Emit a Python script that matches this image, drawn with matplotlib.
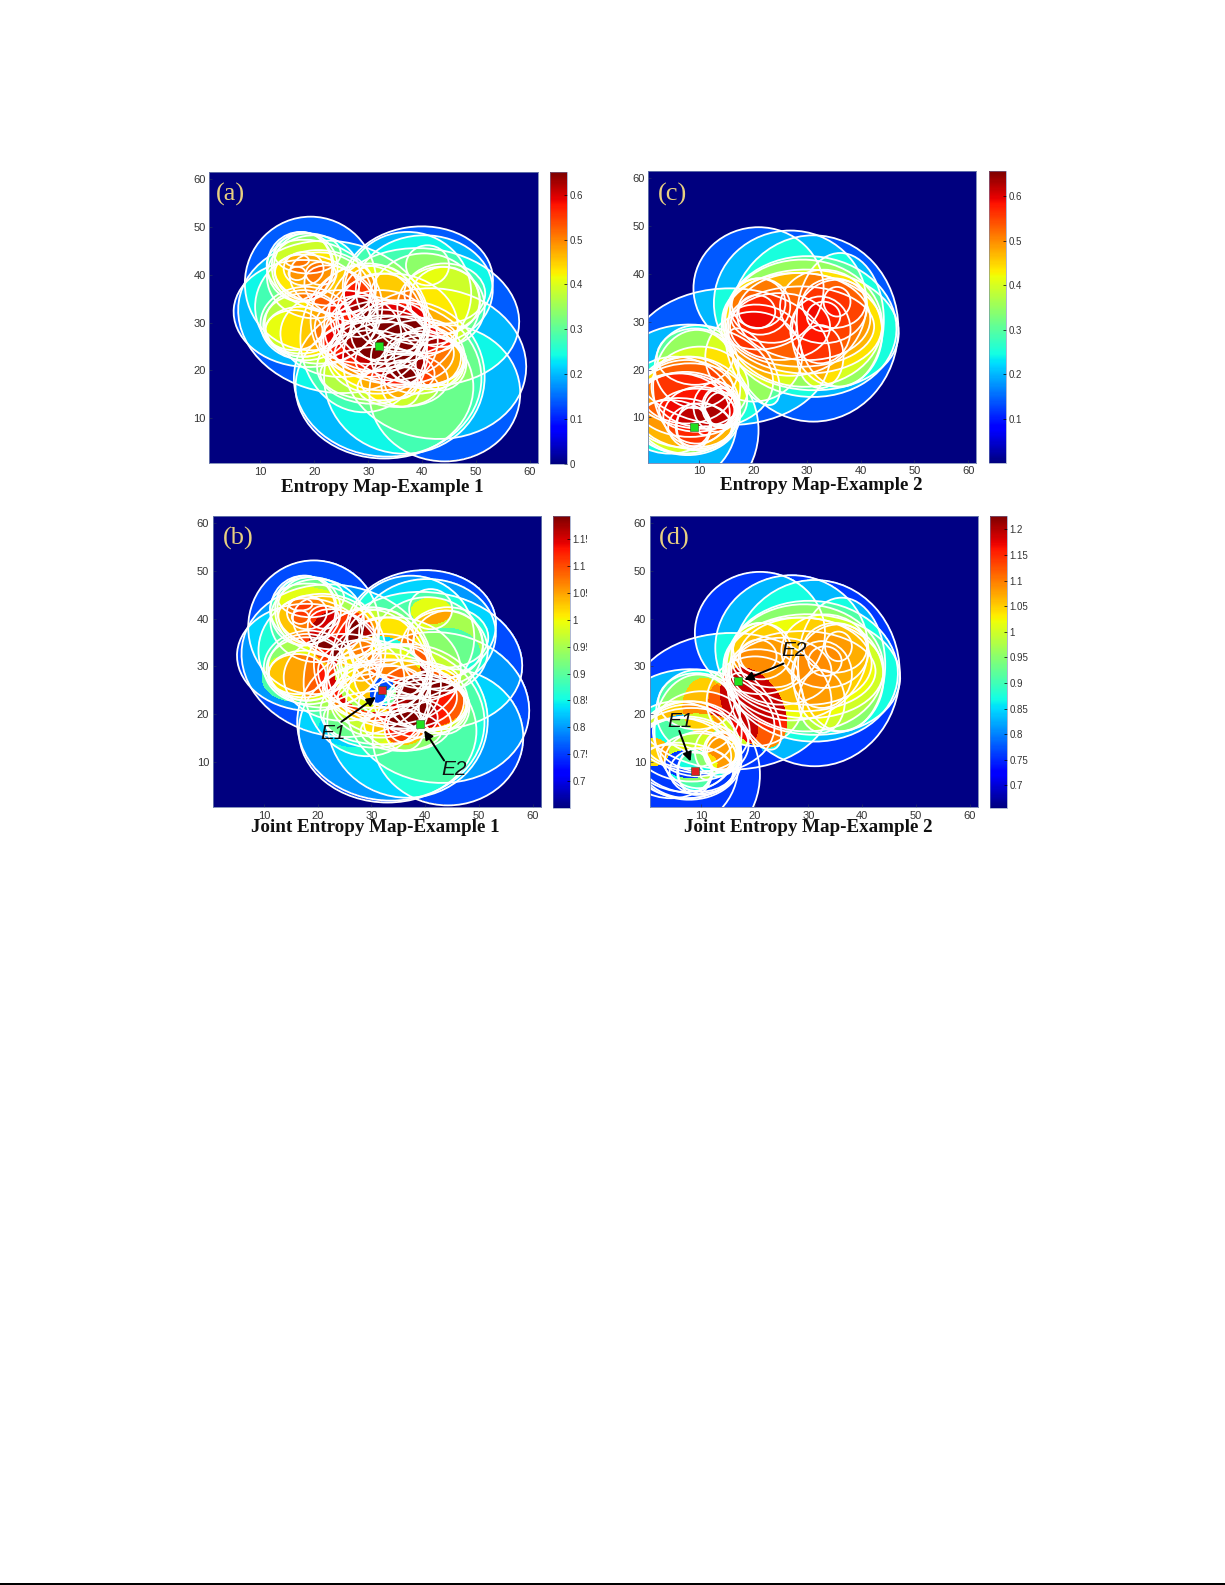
import numpy as np
import matplotlib
matplotlib.use('Agg')
import matplotlib.pyplot as plt
from matplotlib.patches import Ellipse, Rectangle

W, H = 1225, 1585

# sensor footprints, example 1: x, y, rx, ry, tilt
footprints_1 = [
    (19.3, 38.2, 12.2, 14.0, 0), (18.4, 31.9, 13.4, 11.2, -5), (23.6, 31.2, 18.0, 15.7, -20),
    (39.2, 38.2, 14.0, 11.9, 10), (40.4, 31.2, 17.7, 14.3, -10), (42.3, 21.4, 17.1, 15.7, -15),
    (33.6, 18.3, 17.4, 16.4, 0), (44.2, 15.2, 14.0, 14.3, 0), (33.0, 16.5, 16.5, 15.0, 0),
    (36.7, 18.6, 14.9, 16.1, 0), (29.2, 26.6, 11.8, 15.4, 0), (37.3, 36.1, 11.8, 12.9, 0),
    (17.4, 41.7, 6.2, 7.3, 0), (17.7, 41.7, 5.6, 7.3, 0), (18.4, 41.7, 5.9, 7.0, 0),
    (21.2, 40.3, 2.8, 2.4, 0), (16.8, 40.3, 1.6, 1.4, 0), (16.8, 43.0, 2.2, 1.3, 0),
    (18.0, 41.3, 3.7, 3.5, 0), (16.2, 28.4, 5.3, 4.2, 0), (17.4, 28.4, 6.5, 4.9, 0),
    (18.0, 29.8, 7.2, 7.0, 0), (21.2, 39.6, 10.6, 7.0, -25), (41.0, 42.0, 4.0, 4.2, 0),
    (31.7, 36.1, 6.2, 5.9, 0), (32.4, 31.2, 8.4, 9.1, 0), (33.6, 26.3, 12.7, 4.9, 5),
    (30.5, 27.7, 10.6, 7.7, -15), (36.1, 17.2, 3.7, 4.9, 0), (36.1, 17.6, 3.1, 3.5, 0),
    (35.5, 29.1, 5.9, 5.2, 0), (40.4, 22.1, 7.5, 5.9, -20), (37.9, 22.1, 10.3, 5.6, 0),
    (39.2, 22.8, 8.7, 7.7, 0), (28.0, 31.2, 3.7, 4.2, 0), (31.7, 22.8, 9.3, 7.7, 0),
    (34.2, 29.1, 12.4, 11.2, 0), (24.9, 27.7, 11.2, 9.1, 0), (40.4, 34.0, 10.3, 10.5, 0),
    (18.0, 29.5, 7.5, 6.6, 0), (18.4, 29.8, 8.4, 7.7, 0), (20.5, 38.9, 8.1, 4.9, -20),
    (23.0, 38.2, 8.1, 5.9, -30), (24.9, 36.1, 7.5, 4.9, -35), (18.7, 44.5, 6.2, 4.2, 0),
    (29.9, 30.5, 10.6, 11.9, 0), (32.3, 26.3, 10.6, 10.5, 0), (33.6, 24.9, 12.4, 7.7, -10),
    (33.6, 27.7, 6.8, 6.3, 0), (31.7, 24.9, 8.1, 4.9, 15), (44.2, 34.7, 6.5, 7.0, 0),
    (43.5, 33.3, 8.1, 8.4, 0), (44.2, 36.1, 7.5, 6.3, 0), (31.7, 19.3, 10.6, 5.6, 0),
    (30.5, 20.7, 10.0, 7.7, 0), (35.5, 16.5, 7.5, 4.2, 0), (36.7, 18.0, 8.1, 5.6, 0),
    (41.0, 22.8, 6.2, 6.3, 0), (40.4, 22.1, 7.2, 5.2, 0), (43.5, 21.4, 4.7, 5.6, 0),
    (20.8, 33.3, 11.8, 11.9, 0), (19.9, 39.6, 8.7, 8.7, 0), (40.4, 36.8, 12.7, 11.5, 0),
]

# sensor footprints, example 2
footprints_2 = [
    (21.0, 37.0, 12.1, 12.8, 0), (31.2, 28.6, 15.8, 19.5, 0), (26.9, 33.9, 14.2, 15.2, 0),
    (30.6, 28.3, 16.5, 12.6, -5), (30.6, 29.0, 16.1, 14.7, -10),
    (21.0, 33.9, 5.0, 5.2, 0), (20.7, 32.1, 3.4, 3.5, 0),
    (35.0, 33.9, 5.9, 5.2, 0), (33.1, 31.1, 3.1, 3.1, 0), (35.6, 34.2, 2.5, 3.1, 0),
    (22.0, 29.6, 6.2, 3.8, -15), (32.5, 28.3, 5.6, 7.0, 0), (28.8, 29.0, 13.7, 8.4, 0),
    (9.5, 18.5, 14.3, 10.8, -10), (15.7, 22.7, 18.6, 14.3, 0), (8.3, 7.3, 12.7, 15.4, 0),
    (5.5, 9.4, 11.5, 13.3, 0), (9.5, 20.6, 7.8, 8.7, 0), (7.6, 10.8, 10.0, 8.7, -5),
    (9.5, 11.5, 7.0, 4.5, 0), (14.2, 11.5, 3.1, 3.8, 0), (8.9, 8.0, 3.1, 4.9, 0),
    (11.0, 7.2, 1.1, 0.9, 0), (13.2, 12.2, 4.3, 5.2, 0), (7.6, 8.7, 8.7, 5.2, -10),
    (20.0, 20.6, 3.7, 8.7, 25),
    (29.4, 29.7, 14.6, 13.3, -5), (29.1, 29.7, 14.9, 10.5, -5), (29.4, 31.1, 12.4, 9.1, -5),
    (25.0, 29.0, 9.3, 7.0, 0), (33.1, 33.2, 8.1, 7.7, 0), (21.3, 33.2, 5.6, 5.9, 0),
    (20.1, 22.7, 9.0, 9.4, 0), (32.5, 22.7, 4.3, 6.6, 0), (36.2, 30.4, 8.1, 14.0, 0),
    (35.6, 27.6, 8.4, 11.2, 0), (9.2, 22.7, 7.1, 5.9, 0), (7.6, 12.2, 9.9, 9.8, 0),
    (7.0, 10.8, 10.2, 8.4, -5), (6.4, 11.5, 9.3, 7.7, -10), (10.1, 10.1, 6.8, 6.3, 0),
    (4.5, 8.0, 7.5, 5.6, 0), (10.1, 8.0, 5.9, 4.9, 0), (13.9, 12.2, 3.4, 4.2, 0),
    (7.6, 15.7, 8.7, 7.0, 0),
    (9.5, 16.4, 8.1, 11.9, 0), (10.1, 16.4, 9.0, 8.4, 0), (8.3, 13.6, 10.6, 7.7, 0),
    (13.9, 12.2, 3.1, 3.9, 0), (8.9, 8.0, 3.3, 4.2, 0),
]

# colour value reached for each number of overlapping footprints
levels_a = [0, 0.14, 0.20, 0.24, 0.28, 0.31, 0.34, 0.37, 0.39, 0.41, 0.43, 0.45, 0.47, 0.49, 0.51, 0.53, 0.55, 0.57, 0.59, 0.61, 0.63, 0.65]
levels_b = [0.65, 0.76, 0.80, 0.83, 0.86, 0.89, 0.91, 0.93, 0.95, 0.97, 0.99, 1.01, 1.03, 1.05, 1.07, 1.09, 1.11, 1.13, 1.15, 1.17, 1.19]
levels_c = [0, 0.14, 0.20, 0.25, 0.30, 0.35, 0.40, 0.44, 0.47, 0.49, 0.51, 0.53, 0.55, 0.56, 0.57, 0.58, 0.59, 0.60, 0.61, 0.62, 0.63, 0.64, 0.65]
levels_d = [0.66, 0.76, 0.83, 0.87, 0.91, 0.95, 0.98, 1.00, 1.02, 1.04, 1.05, 1.06, 1.07, 1.08, 1.08, 1.09, 1.09, 1.10, 1.12, 1.15, 1.17, 1.19]

# extra regions with a lowered or raised value: x, y, rx, ry, tilt, change in level
shifts_b = [(31.1, 28.2, 8.0, 8.0, 0, -9), (32.0, 24.5, 2.5, 3.0, 0, -14), (27.0, 17.0, 7.0, 4.0, 0, -1),
            (20.0, 40.0, 9.0, 6.0, -20, 2), (39.8, 22.6, 7.5, 5.6, 0, 3), (36.0, 16.3, 3.7, 2.8, 0, 4),
            (41.0, 41.5, 3.8, 2.8, 0, 4), (43.5, 33.0, 6.5, 5.0, 0, -3), (15.5, 27.5, 6.0, 5.0, 0, 3),
            (24.3, 35.9, 6.0, 6.0, 0, 3)]
shifts_d = [(9.0, 9.0, 13.0, 11.0, 0, -9), (8.0, 9.5, 5.0, 3.0, 0, -6), (1.0, 12.0, 3.0, 3.0, 0, 8),
            (19.7, 21.3, 5.5, 9.0, 25, 13), (16.0, 20.0, 4.0, 7.0, 25, 6), (10.5, 21.5, 4.0, 6.0, 0, 5),
            (14.0, 12.0, 3.0, 4.0, 0, 4)]

ticks_xy = [10, 20, 30, 40, 50, 60]
ticks_a = [0, 0.1, 0.2, 0.3, 0.4, 0.5, 0.6]
ticks_c = [0.1, 0.2, 0.3, 0.4, 0.5, 0.6]
ticks_b = [0.7, 0.75, 0.8, 0.85, 0.9, 0.95, 1, 1.05, 1.1, 1.15]
ticks_d = [0.7, 0.75, 0.8, 0.85, 0.9, 0.95, 1, 1.05, 1.1, 1.15, 1.2]

plt.rcParams['font.family'] = ['Liberation Sans', 'DejaVu Sans']

fig = plt.figure(figsize=(W / 100, H / 100), dpi=100)
xs = np.linspace(0.5, 61.5, 660)
ys = np.linspace(0.5, 61.5, 580)
gx, gy = np.meshgrid(xs, ys)


def inside(e):
    cx, cy, rx, ry, tilt = e[:5]
    t = np.radians(tilt)
    dx, dy = gx - cx, gy - cy
    u = dx * np.cos(t) + dy * np.sin(t)
    v = -dx * np.sin(t) + dy * np.cos(t)
    return (u / rx) ** 2 + (v / ry) ** 2 <= 1


def box(x0, y0, x1, y1):
    return [x0 / W, 1 - y1 / H, (x1 - x0) / W, (y1 - y0) / H]


def panel(pos, cpos, foots, levels, shifts, vmin, vmax, cticks, letter, letter_xy, title, title_xy):
    ax = fig.add_axes(box(*pos))
    score = np.zeros_like(gx)
    for e in foots:
        score += inside(e)
    for s in shifts:
        score = np.where(score > 0, np.maximum(score + s[5] * inside(s), 1), 0)
    score = np.clip(score, 0, len(levels) - 1)
    field = np.interp(score, np.arange(len(levels)), levels)
    im = ax.imshow(field, origin='lower', extent=(0.5, 61.5, 0.5, 61.5), cmap='jet',
                   vmin=vmin, vmax=vmax, aspect='auto', interpolation='nearest')
    for e in foots:
        ax.add_patch(Ellipse(e[:2], 2 * e[2], 2 * e[3], angle=e[4], fill=False, ec='white', lw=1.3))
    ax.set_xlim(0.5, 61.5)
    ax.set_ylim(0.5, 61.5)
    ax.set_xticks(ticks_xy)
    ax.set_yticks(ticks_xy)
    ax.tick_params(direction='in', length=2, width=0.5, color='#203060', labelsize=8,
                   labelcolor='#333333', pad=2.5)
    for sp in ax.spines.values():
        sp.set_color('#7080b0')
        sp.set_linewidth(0.6)
    ax.text(letter_xy[0], letter_xy[1] - 0.7, letter, family='Liberation Serif', fontsize=19,
            color='#e8d080', ha='center', va='center')
    fig.text(title_xy[0] / W, 1 - title_xy[1] / H, title, family='Liberation Serif', weight='bold',
             fontsize=13.7, ha='center', va='center', color='#111111')

    cax = fig.add_axes(box(*cpos))
    cb = fig.colorbar(im, cax=cax, ticks=cticks)
    cb.ax.set_yticklabels([f'{t:g}' for t in cticks])
    cb.ax.tick_params(direction='in', length=2, width=0.5, labelsize=7, labelcolor='#333333', pad=2)
    cb.outline.set_linewidth(0.4)
    cb.outline.set_edgecolor('#7080b0')
    return ax


def mark(ax, xy, color):
    ax.plot(xy[0], xy[1], 's', ms=6, mfc=color, mec='#206020', mew=0.4)


def pointer(ax, label, text_xy, start, end):
    ax.text(text_xy[0], text_xy[1], label, fontsize=15, style='italic', color='#111111',
            ha='center', va='center')
    ax.annotate('', xy=end, xytext=start,
                arrowprops=dict(arrowstyle='-|>', color='black', lw=1.4, mutation_scale=13,
                                shrinkA=0, shrinkB=0))


ax_a = panel((209.3, 172.3, 538, 463.3), (550, 172.3, 567, 464), footprints_1, levels_a, [], 0, 0.65, ticks_a,
             '(a)', (4.4, 57.6), 'Entropy Map-Example 1', (382.5, 487))
mark(ax_a, (32, 25), '#20e020')

ax_c = panel((648.3, 171.3, 976.3, 462.7), (989, 171.3, 1005.7, 463), footprints_2, levels_c, [], 0, 0.656, ticks_c,
             '(c)', (5, 57.4), 'Entropy Map-Example 2', (821, 486))
mark(ax_c, (9, 8), '#20e020')

ax_b = panel((212.7, 516, 541, 807.3), (553.3, 516.5, 570, 808), footprints_1, levels_b, shifts_b, 0.65, 1.192, ticks_b,
             '(b)', (5.2, 57.6), 'Joint Entropy Map-Example 1', (375.5, 828))
mark(ax_b, (32, 25), '#e02020')
mark(ax_b, (39, 18), '#20e020')
pointer(ax_b, 'E1', (22.9, 15.9), (24.4, 18.4), (30.8, 23.6))
pointer(ax_b, 'E2', (45.4, 8.4), (43.5, 10.3), (39.8, 16.6))

ax_d = panel((649.7, 516, 977.7, 807.3), (990, 516, 1007, 808), footprints_2, levels_d, shifts_d, 0.656, 1.226, ticks_d,
             '(d)', (5, 57.6), 'Joint Entropy Map-Example 2', (808, 828))
mark(ax_d, (9, 8), '#e02020')
mark(ax_d, (17, 27), '#20e020')
pointer(ax_d, 'E1', (6.2, 18.4), (6, 16.5), (8.1, 10.1))
pointer(ax_d, 'E2', (27.4, 33.3), (25.4, 30.6), (18.1, 27.2))

# the colour bar labels of panel b are cut off on the right in the source
fig.add_artist(Rectangle((587 / W, 1 - 808 / H), 8 / W, 300 / H, transform=fig.transFigure,
                         fc='white', ec='none', zorder=10))
# page edge line
fig.add_artist(Rectangle((0, 0.5 / H), 1, 1.2 / H, transform=fig.transFigure, fc='black', ec='none'))

fig.savefig('out.png', dpi=100)
